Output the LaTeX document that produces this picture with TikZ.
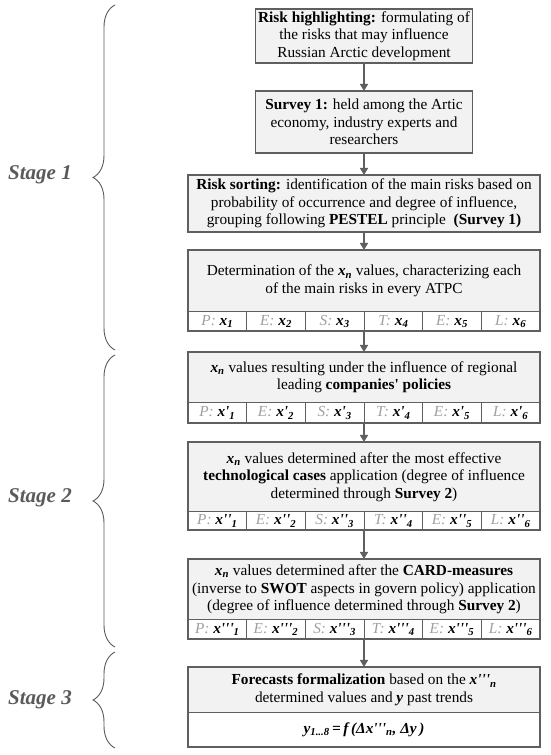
\documentclass[tikz,border=0pt]{standalone}
\usepackage{fontspec}
\setmainfont{Liberation Serif}
\usetikzlibrary{positioning,fit,arrows.meta,decorations.pathreplacing}

\newcommand{\tick}{\textquotesingle}
\newcommand{\xv}[2]{\textbf{\textit{x#1\textsubscript{#2}}}}
% one PESTEL row under a box: box name, primes, row height
\newcommand{\pestelrow}[3]{%
	\foreach \lab/\sub [count=\i] in {P/1,E/2,S/3,T/4,E/5,L/6}{
		\node(#1c\i)[cell, minimum height=#3, anchor=north west, xshift={(\i-1)*58.667pt}] at (#1.south west){\textcolor{lettergray}{\textit{\lab:}} \xv{#2}{\sub}};
	}
	\node(#1f)[frame, fit=(#1)(#1c6)]{};
}

\begin{document}
\begin{tikzpicture}[x=1pt,y=1pt]

	\definecolor{framecolor}{RGB}{95,95,95}
	\definecolor{boxcolor}{RGB}{242,242,242}
	\definecolor{lettergray}{RGB}{160,160,160}
	\definecolor{stagegray}{RGB}{90,90,90}

	\tikzset{
		stepbox/.style={draw=framecolor, line width=1.6pt, fill=boxcolor, align=center, outer sep=0pt, inner xsep=2pt, inner ysep=1pt, minimum width=352pt, font=\fontsize{15.3}{17.5}\selectfont},
		cell/.style={draw=framecolor, line width=1pt, fill=white, outer sep=0pt, inner sep=0pt, minimum width=58.667pt, font=\fontsize{15.3}{17.5}\selectfont},
		frame/.style={draw=framecolor, line width=1.6pt, inner sep=0pt, outer sep=0pt},
		flow/.style={draw=framecolor, line width=1.5pt, -{Triangle[length=7pt,width=8pt]}},
		stage/.style={text=stagegray, font=\fontsize{21}{21}\selectfont\bfseries\itshape},
		stagebrace/.style={draw=stagegray, line width=0.9pt, decorate, decoration={brace,amplitude=22pt}}
	}

	\useasboundingbox (0,0) rectangle (550,755);

	\node(b1)[stepbox, minimum width=217pt, minimum height=54pt, anchor=north] at (364,746){\textbf{Risk highlighting:} formulating of\\the risks that may influence\\Russian Arctic development};
	\node(b2)[below=28pt of b1, stepbox, minimum width=217pt, minimum height=62pt]{\textbf{Survey 1:} held among the Artic\\economy, industry experts and\\researchers};
	\node(b3)[below=22pt of b2, stepbox, minimum height=57pt]{\textbf{Risk sorting:} identification of the main risks based on\\probability of occurrence and degree of influence,\\grouping following \textbf{PESTEL} principle~~\textbf{(Survey 1)}};

	\node(b4)[below=18pt of b3, stepbox, minimum height=62pt]{Determination of the \xv{}{n} values, characterizing each\\of the main risks in every ATPC};
	\pestelrow{b4}{}{19pt}

	\node(b5)[below=21pt of b4f, stepbox, minimum height=51pt]{\xv{}{n} values resulting under the influence of regional\\leading \textbf{companies\tick{} policies}};
	\pestelrow{b5}{\tick}{20pt}

	\node(b6)[below=19pt of b5f, stepbox, minimum height=70pt]{\xv{}{n} values determined after the most effective\\\textbf{technological cases} application (degree of influence\\determined through \textbf{Survey 2})};
	\pestelrow{b6}{\tick\tick}{18pt}

	\node(b7)[below=29pt of b6f, stepbox, minimum height=61pt]{\xv{}{n} values determined after the \textbf{CARD-measures}\\(inverse to \textbf{SWOT} aspects in govern policy) application\\(degree of influence determined through \textbf{Survey 2})};
	\pestelrow{b7}{\tick\tick\tick}{19pt}

	\node(b8)[below=28pt of b7f, stepbox, minimum height=46pt]{\textbf{Forecasts formalization} based on the \xv{\tick\tick\tick}{n}\\determined values and \textbf{\textit{y}} past trends};
	\node(b8c)[cell, minimum width=352pt, minimum height=34pt, anchor=north] at (b8.south){\textbf{\textit{y\textsubscript{1...8}\,=\,f\,(Δx\tick\tick\tick\textsubscript{n}, Δy\,)}}};
	\node(b8f)[frame, fit=(b8)(b8c)]{};

	\draw[flow] (b1) -- (b2);
	\draw[flow] (b2) -- (b3);
	\draw[flow] (b3) -- (b4);
	\draw[flow] (b4f) -- (b5);
	\draw[flow] (b5f) -- (b6);
	\draw[flow] (b6f) -- (b7);
	\draw[flow] (b7f) -- (b8);

	% stages
	\node(s1)[stage] at (40,580){Stage 1};
	\node(s2)[stage] at (40,257){Stage 2};
	\node(s3)[stage] at (40,55){Stage 3};
	\draw[stagebrace] (115,405) -- (115,750);
	\draw[stagebrace] (115,108) -- (115,400);
	\draw[stagebrace] (115,7) -- (115,103);

\end{tikzpicture}
\end{document}
